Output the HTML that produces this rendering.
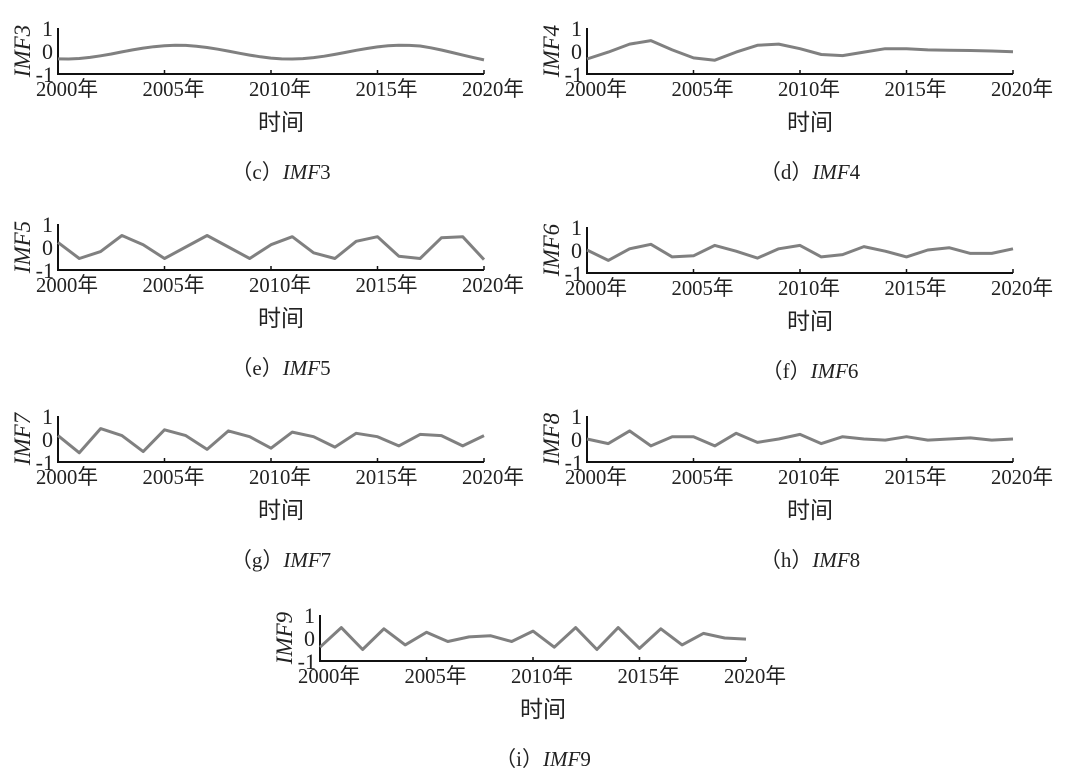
<!DOCTYPE html>
<html><head><meta charset="utf-8">
<style>
html,body{margin:0;padding:0;background:#fff;width:1070px;height:782px;overflow:hidden}
svg{display:block}
text{font-family:"Liberation Serif","Noto Serif CJK SC",serif;fill:#222}
.cj{font-family:"Liberation Serif","Noto Sans CJK SC",sans-serif}
</style></head><body>
<svg id="s" width="1070" height="782" xmlns="http://www.w3.org/2000/svg"></svg>
<script>
const S=document.getElementById('s');
const NS='http://www.w3.org/2000/svg';
function el(t,a,txt){const e=document.createElementNS(NS,t);for(const k in a)e.setAttribute(k,a[k]);if(txt!==undefined)e.textContent=txt;S.appendChild(e);return e;}
function panel(x0,x1,top,name,letter,data){
 const bot=top+46,mid=top+23,u=23;
 el('path',{d:`M${x0} ${top} V${bot} H${x1}`,stroke:'#111','stroke-width':2,fill:'none'});
 for(let i=0;i<5;i++){const x=x0+(x1-x0)*i/4;el('line',{x1:x,x2:x,y1:bot,y2:bot-4,stroke:'#111','stroke-width':1.5});
  el('text',{x:x+9,y:bot+22,'font-size':21,'text-anchor':'middle',class:'cj',textLength:62,lengthAdjust:'spacingAndGlyphs'},(2000+5*i)+'年');}
 el('text',{x:x0-5,y:top+8,'font-size':22,'text-anchor':'end'},'1');
 el('text',{x:x0-5,y:mid+8,'font-size':22,'text-anchor':'end'},'0');
 el('text',{x:x0-4,y:bot+8,'font-size':22,'text-anchor':'end'},'-1');
 el('text',{x:0,y:0,'font-size':23,'font-style':'italic','text-anchor':'middle',transform:`translate(${x0-28},${mid}) rotate(-90)`},name);
 const cx=(x0+x1)/2+10;
 el('text',{x:cx,y:bot+56,'font-size':23,'text-anchor':'middle',class:'cj'},'时间');
 const t=el('text',{x:cx,y:bot+105,'font-size':21,'text-anchor':'middle',class:'cj'});
 t.innerHTML=`（${letter}）<tspan font-style="italic">${name.slice(0,3)}</tspan>${name.slice(3)}`;
 let d='';data.forEach((v,i)=>{const x=x0+(x1-x0)*i/(data.length-1);d+=(i?'L':'M')+x.toFixed(1)+' '+(mid-v*u).toFixed(1);});
 el('path',{d,stroke:'#808080','stroke-width':3,fill:'none','stroke-linejoin':'round'});
}
const c=[];for(let i=0;i<=40;i++){const t=i/2;c.push(-0.05-0.3*Math.cos((t-0.3)*2*Math.PI/10.6)+(t>17?-(t-17)*0.05:0));}
panel(58,484,28,'IMF3','c',c);
panel(587,1013,28,'IMF4','d',[-0.35,-0.05,0.3,0.45,0.05,-0.3,-0.4,-0.05,0.25,0.3,0.1,-0.15,-0.2,-0.05,0.1,0.1,0.05,0.03,0.02,0,-0.03]);
panel(58,484,224,'IMF5','e',[0.2,-0.5,-0.2,0.5,0.1,-0.5,0,0.5,0,-0.5,0.1,0.45,-0.25,-0.5,0.25,0.45,-0.4,-0.5,0.4,0.45,-0.55]);
panel(587,1013,227,'IMF6','f',[0,-0.45,0.05,0.25,-0.3,-0.25,0.2,-0.05,-0.35,0.05,0.2,-0.3,-0.2,0.15,-0.05,-0.3,0,0.1,-0.15,-0.15,0.05]);
panel(58,484,416,'IMF7','g',[0.15,-0.6,0.45,0.15,-0.55,0.4,0.15,-0.45,0.35,0.1,-0.4,0.3,0.1,-0.35,0.25,0.1,-0.3,0.2,0.15,-0.3,0.15]);
panel(587,1013,416,'IMF8','h',[0,-0.2,0.35,-0.3,0.1,0.1,-0.3,0.25,-0.15,0,0.2,-0.2,0.1,0,-0.05,0.1,-0.05,0,0.05,-0.05,0]);
panel(320,746,615,'IMF9','i',[-0.4,0.45,-0.5,0.4,-0.3,0.25,-0.15,0.05,0.1,-0.15,0.3,-0.4,0.45,-0.5,0.45,-0.45,0.4,-0.3,0.2,0,-0.05]);
</script>
</body></html>
